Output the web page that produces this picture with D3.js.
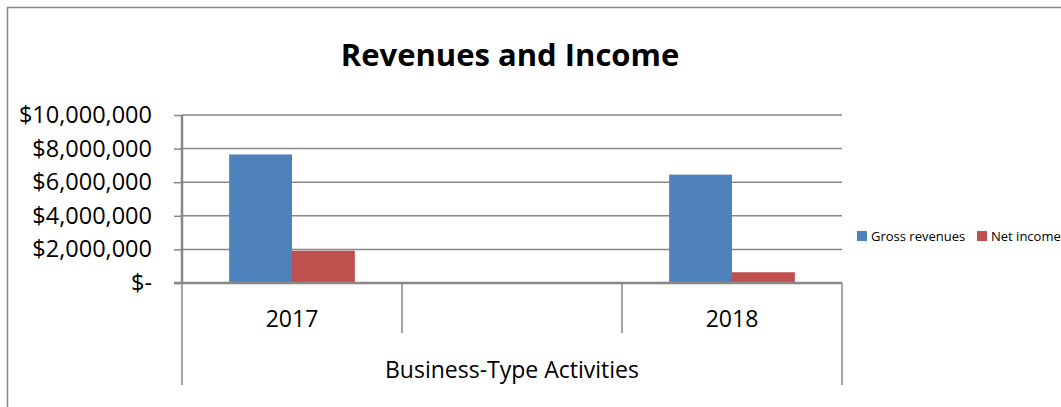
<!DOCTYPE html>
<html lang="en">
<head>
    <meta charset="UTF-8">
    <title>Revenues and Income</title>
    <script src="https://d3js.org/d3.v7.min.js"></script>
    <style>
        body { margin: 0; background: #fff; }
        svg { display: block; font-family: "Open Sans", "Liberation Sans", sans-serif; }
        .title { font-size: 31px; font-weight: bold; }
        .y-axis text { font-family: "Open Sans", sans-serif; font-size: 23.5px; fill: #000; }
        .x-label { font-size: 23px; }
        .legend text { font-size: 13px; }
    </style>
</head>
<body>
    <div id="chart"></div>

    <script>
        // values
        const categories = ["2017", "", "2018"];
        const grossRevenues = [7650000, null, 6450000];
        const netIncome = [1920000, null, 640000];
        const seriesNames = ["Gross revenues", "Net income"];
        const yTicks = [0, 2000000, 4000000, 6000000, 8000000, 10000000];
        const groupLabel = "Business-Type Activities";

        const W = 1061, H = 407;
        const margin = { top: 115, right: 219, bottom: 124, left: 182 };
        const width = W - margin.left - margin.right;
        const height = H - margin.top - margin.bottom;
        const colors = ["#4f81bd", "#c0504d"];
        const grey = "#878787";

        const svg = d3.select("#chart").append("svg")
            .attr("width", W)
            .attr("height", H);

        // chart frame
        svg.append("rect")
            .attr("x", 7.5).attr("y", 7.5)
            .attr("width", W).attr("height", H)
            .attr("fill", "none")
            .attr("stroke", grey)
            .attr("stroke-width", 1.5);

        svg.append("text")
            .attr("class", "title")
            .attr("x", 510)
            .attr("y", 66)
            .attr("text-anchor", "middle")
            .text("Revenues and Income");

        const g = svg.append("g")
            .attr("transform", `translate(${margin.left}, ${margin.top})`);

        const x = d3.scaleBand()
            .domain(categories)
            .range([0, width]);

        // bars take 2/3.5 of a category, like Excel's 150% gap
        const barW = x.bandwidth() / 3.5;
        const xInner = d3.scaleBand()
            .domain(seriesNames)
            .range([0, barW * 2]);

        const y = d3.scaleLinear()
            .domain([0, 10000000])
            .range([height, 0]);

        const fmt = d3.format(",");
        const yAxis = g.append("g")
            .attr("class", "y-axis")
            .call(d3.axisLeft(y)
                .tickValues(yTicks)
                .tickSize(8)
                .tickPadding(22)
                .tickFormat(d => d === 0 ? "$-" : "$" + fmt(d)));
        yAxis.attr("font-family", null).attr("font-size", null);
        yAxis.select(".domain").remove();
        yAxis.selectAll("line").attr("stroke", grey).attr("stroke-width", 1.5);

        // gridlines
        g.append("g")
            .selectAll("line")
            .data(yTicks.filter(d => d > 0))
            .join("line")
            .attr("x1", 0).attr("x2", width)
            .attr("y1", d => y(d)).attr("y2", d => y(d))
            .attr("stroke", grey)
            .attr("stroke-width", 1.5);

        // bars
        const seriesData = [grossRevenues, netIncome];
        seriesData.forEach((vals, s) => {
            g.append("g")
                .selectAll("rect")
                .data(categories.map((c, i) => ({ c, v: vals[i] })).filter(d => d.v != null))
                .join("rect")
                .attr("x", d => x(d.c) + (x.bandwidth() - barW * 2) / 2 + xInner(seriesNames[s]))
                .attr("width", xInner.bandwidth())
                .attr("y", d => y(d.v))
                .attr("height", d => height - y(d.v))
                .attr("fill", colors[s]);
        });

        // y axis line and x axis line
        g.append("line")
            .attr("x1", 0).attr("x2", 0)
            .attr("y1", 0).attr("y2", height)
            .attr("stroke", grey).attr("stroke-width", 2.5);
        g.append("line")
            .attr("x1", -8).attr("x2", width)
            .attr("y1", height).attr("y2", height)
            .attr("stroke", grey).attr("stroke-width", 2.5);

        // category dividers: short inside, long at both ends
        const edges = categories.map(c => x(c)).concat([width]);
        g.append("g")
            .selectAll("line")
            .data(edges)
            .join("line")
            .attr("x1", d => d).attr("x2", d => d)
            .attr("y1", height)
            .attr("y2", (d, i) => (i === 0 || i === edges.length - 1) ? height + 102 : height + 50)
            .attr("stroke", grey)
            .attr("stroke-width", 1.5);

        g.append("g")
            .selectAll("text")
            .data(categories)
            .join("text")
            .attr("class", "x-label")
            .attr("x", d => x(d) + x.bandwidth() / 2)
            .attr("y", height + 44)
            .attr("text-anchor", "middle")
            .text(d => d);

        g.append("text")
            .attr("class", "x-label")
            .attr("x", width / 2)
            .attr("y", height + 95)
            .attr("text-anchor", "middle")
            .text(groupLabel);

        // legend
        const legend = svg.append("g")
            .attr("class", "legend")
            .attr("transform", "translate(857, 231)");
        const legendX = [0, 120];
        seriesNames.forEach((name, i) => {
            legend.append("rect")
                .attr("x", legendX[i]).attr("y", 0)
                .attr("width", 10).attr("height", 10)
                .attr("fill", colors[i]);
            legend.append("text")
                .attr("x", legendX[i] + 14)
                .attr("y", 10)
                .text(name);
        });
    </script>
</body>
</html>
